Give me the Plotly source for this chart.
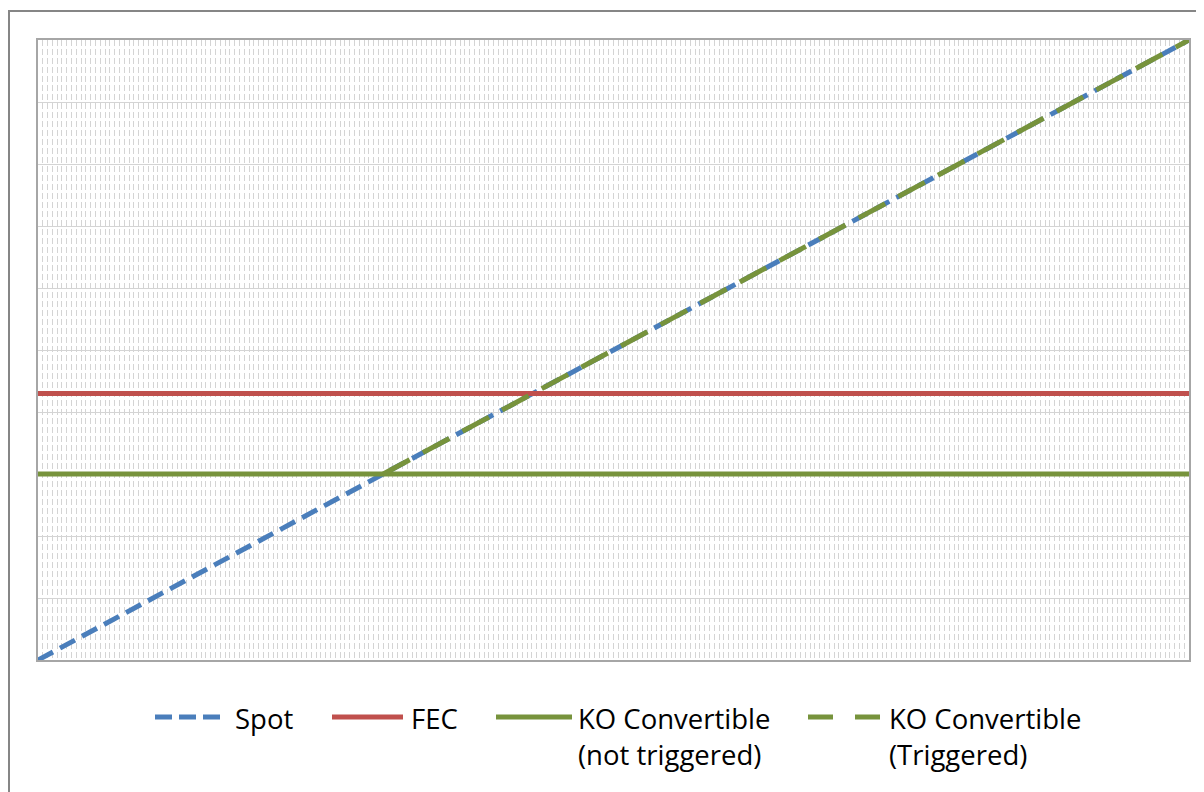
import plotly.graph_objects as go

# ---- data ----
spot_x = [0, 240]
spot_y = [0, 10]
fec_x = [0, 240]
fec_y = [4.3, 4.3]
ko_x = [0, 240]
ko_y = [3.0, 3.0]
trig_x = [72, 240]
trig_y = [3.0, 10.0]

legend_names = ["Spot", "FEC", "KO Convertible<br>(not triggered)", "KO Convertible<br>(Triggered)"]

BLUE = "#4a7ebb"
RED = "#c0504d"
GREEN = "#77933c"

OFF = 8  # page body margin
W, H = 1204 - OFF, 792 - OFF
L, T, R, B = 38 - OFF, 40 - OFF, 1189 - OFF, 660 - OFF


def px(x):
    return (x - OFF - L) / (R - L)


def py(y):
    return (B - (y - OFF)) / (B - T)


fig = go.Figure()
fig.add_trace(go.Scatter(x=spot_x, y=spot_y, mode="lines", name="Spot",
                         line=dict(color=BLUE, width=5, dash="17px,8px")))
fig.add_trace(go.Scatter(x=fec_x, y=fec_y, mode="lines", name="FEC",
                         line=dict(color=RED, width=5)))
fig.add_trace(go.Scatter(x=ko_x, y=ko_y, mode="lines", name="KO Convertible (not triggered)",
                         line=dict(color=GREEN, width=5)))
fig.add_trace(go.Scatter(x=trig_x, y=trig_y, mode="lines", name="KO Convertible (Triggered)",
                         line=dict(color=GREEN, width=5, dash="30px,15px")))

shapes = []
# outer chart border
shapes.append(dict(type="rect", xref="paper", yref="paper",
                   x0=px(9), x1=px(1215), y0=py(810), y1=py(11),
                   line=dict(color="#868686", width=2), fillcolor="rgba(0,0,0,0)", layer="below"))
# legend symbols
ly = py(717)
shapes.append(dict(type="line", xref="paper", yref="paper", x0=px(155), x1=px(220), y0=ly, y1=ly,
                   line=dict(color=BLUE, width=5, dash="17px,7px")))
shapes.append(dict(type="line", xref="paper", yref="paper", x0=px(332), x1=px(403), y0=ly, y1=ly,
                   line=dict(color=RED, width=5)))
shapes.append(dict(type="line", xref="paper", yref="paper", x0=px(496), x1=px(572), y0=ly, y1=ly,
                   line=dict(color=GREEN, width=5)))
shapes.append(dict(type="line", xref="paper", yref="paper", x0=px(808), x1=px(880), y0=ly, y1=ly,
                   line=dict(color=GREEN, width=5, dash="25px,22px")))

text_x = [233, 409, 576, 887]
annotations = []
for name, tx in zip(legend_names, text_x):
    annotations.append(dict(text=name, xref="paper", yref="paper", x=px(tx), y=py(698),
                            xanchor="left", yanchor="top", align="left", showarrow=False,
                            font=dict(family="Open Sans", size=27.5, color="#000000")))

fig.update_layout(
    width=W, height=H,
    margin=dict(l=L, r=W - R, t=T, b=H - B, pad=0),
    paper_bgcolor="white", plot_bgcolor="white",
    showlegend=False,
    shapes=shapes, annotations=annotations,
    xaxis=dict(range=[0, 240], dtick=1, tick0=0, showgrid=True, gridcolor="#d4d4d4", gridwidth=1,
               griddash="6px,3px", showticklabels=False, ticks="", zeroline=False,
               showline=True, linecolor="#a6a6a6", linewidth=2, mirror=True),
    yaxis=dict(range=[0, 10], dtick=1, tick0=0, showgrid=True, gridcolor="#d4d4d4", gridwidth=1,
               showticklabels=False, ticks="", zeroline=False,
               showline=True, linecolor="#a6a6a6", linewidth=2, mirror=True),
)

fig.write_html("out.html")
